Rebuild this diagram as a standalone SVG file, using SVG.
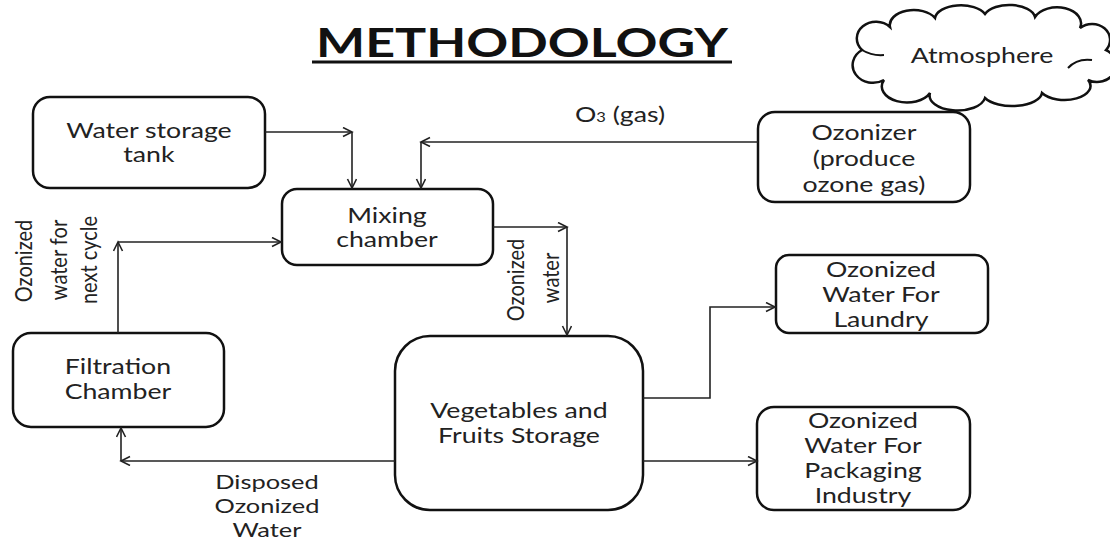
<svg xmlns="http://www.w3.org/2000/svg" width="1110" height="540" viewBox="0 0 1110 540">
<style>
.box{fill:#fff;stroke:#111;stroke-width:2.5}
.t{font-family:Lato,"Open Sans","Liberation Sans",sans-serif;font-size:21px;fill:#222;text-anchor:middle}
.h{transform-box:fill-box;transform-origin:center;transform:scaleX(1.27)}
.s{font-size:20px}
.c{fill:none;stroke:#222;stroke-width:1.6}
</style>
<defs>
<marker id="ah" markerUnits="userSpaceOnUse" markerWidth="12" markerHeight="12" refX="10" refY="5" orient="auto">
<path d="M1,0.5 L10,5 L1,9.5" fill="none" stroke="#222" stroke-width="1.6"/>
</marker>
</defs>
<rect width="1110" height="540" fill="#fff"/>
<g id="title">
<text x="522" y="57" font-family="Lato,'Open Sans','Liberation Sans',sans-serif" font-size="40" font-weight="bold" fill="#111" text-anchor="middle" textLength="412" lengthAdjust="spacingAndGlyphs">METHODOLOGY</text>
<line x1="312" y1="62" x2="732" y2="62" stroke="#111" stroke-width="3"/>
</g>
<g id="atmosphere">
<path class="box" d="M862,50 A16,14 0 0 1 890,27 A24,15 0 0 1 935,18 A26,14 0 0 1 985,14 A26,14 0 0 1 1035,17 A24,16 0 0 1 1080,28 A18,16 0 0 1 1106,50 A18,16 0 0 1 1088,80 A26,14 0 0 1 1042,93 A30,14 0 0 1 985,98 A26,14 0 0 1 930,93 A22,14 0 0 1 884,80 A16,14 0 0 1 862,50 Z"/>
<path d="M862,50 Q872,56 884,55 M1068,68 Q1077,58 1092,60" fill="none" stroke="#111" stroke-width="2"/>
<text class="t h" x="982" y="63">Atmosphere</text>
</g>
<g id="water-storage">
<rect class="box" x="33" y="97" width="232" height="91" rx="17"/>
<text class="t h" x="149" y="138">Water storage</text>
<text class="t h" x="149" y="162">tank</text>
</g>
<g id="mixing">
<rect class="box" x="282" y="189" width="211" height="76" rx="15"/>
<text class="t h" x="387" y="223">Mixing</text>
<text class="t h" x="387" y="247">chamber</text>
</g>
<g id="ozonizer">
<rect class="box" x="758" y="112" width="212" height="90" rx="17"/>
<text class="t h" x="864" y="140">Ozonizer</text>
<text class="t h" x="864" y="166">(produce</text>
<text class="t h" x="864" y="192">ozone gas)</text>
</g>
<g id="filtration">
<rect class="box" x="13" y="333" width="211" height="94" rx="18"/>
<text class="t h" x="118" y="374">Filtration</text>
<text class="t h" x="118" y="399">Chamber</text>
</g>
<g id="veg">
<rect class="box" x="395" y="336" width="248" height="174" rx="35"/>
<text class="t h" x="519" y="418">Vegetables and</text>
<text class="t h" x="519" y="443">Fruits Storage</text>
</g>
<g id="laundry">
<rect class="box" x="776" y="255" width="212" height="78" rx="13"/>
<text class="t h" x="881" y="277">Ozonized</text>
<text class="t h" x="881" y="302">Water For</text>
<text class="t h" x="881" y="327">Laundry</text>
</g>
<g id="packaging">
<rect class="box" x="757" y="407" width="213" height="103" rx="17"/>
<text class="t h" x="863" y="428">Ozonized</text>
<text class="t h" x="863" y="453">Water For</text>
<text class="t h" x="863" y="478">Packaging</text>
<text class="t h" x="863" y="503">Industry</text>
</g>
<g id="connectors">
<path class="c" d="M265,132 H352" marker-end="url(#ah)"/>
<path class="c" d="M352,132 V188" marker-end="url(#ah)"/>
<path class="c" d="M758,142 H421" marker-end="url(#ah)"/>
<path class="c" d="M421,142 V188" marker-end="url(#ah)"/>
<path class="c" d="M493,227 H567" marker-end="url(#ah)"/>
<path class="c" d="M567,227 V335" marker-end="url(#ah)"/>
<path class="c" d="M118,333 V242" marker-end="url(#ah)"/>
<path class="c" d="M118,242 H281" marker-end="url(#ah)"/>
<path class="c" d="M395,461 H121" marker-end="url(#ah)"/>
<path class="c" d="M121,461 V428" marker-end="url(#ah)"/>
<path class="c" d="M643,398 H710 V307 H775" marker-end="url(#ah)"/>
<path class="c" d="M643,461 H757" marker-end="url(#ah)"/>
</g>
<g id="labels">
<text class="t h" x="620" y="122">O<tspan font-size="13">3</tspan> (gas)</text>
<text class="t s" transform="translate(524,280) rotate(-90) scale(1,1.2)" x="0" y="0">Ozonized</text>
<text class="t s" transform="translate(559,278) rotate(-90) scale(1,1.2)" x="0" y="0">water</text>
<text class="t s" transform="translate(32,261) rotate(-90) scale(1,1.2)" x="0" y="0">Ozonized</text>
<text class="t s" transform="translate(67,260) rotate(-90) scale(1,1.2)" x="0" y="0">water for</text>
<text class="t s" transform="translate(97,260) rotate(-90) scale(1,1.2)" x="0" y="0">next cycle</text>
<text class="t h s" x="267" y="489">Disposed</text>
<text class="t h s" x="267" y="513">Ozonized</text>
<text class="t h s" x="267" y="537">Water</text>
</g>
</svg>
